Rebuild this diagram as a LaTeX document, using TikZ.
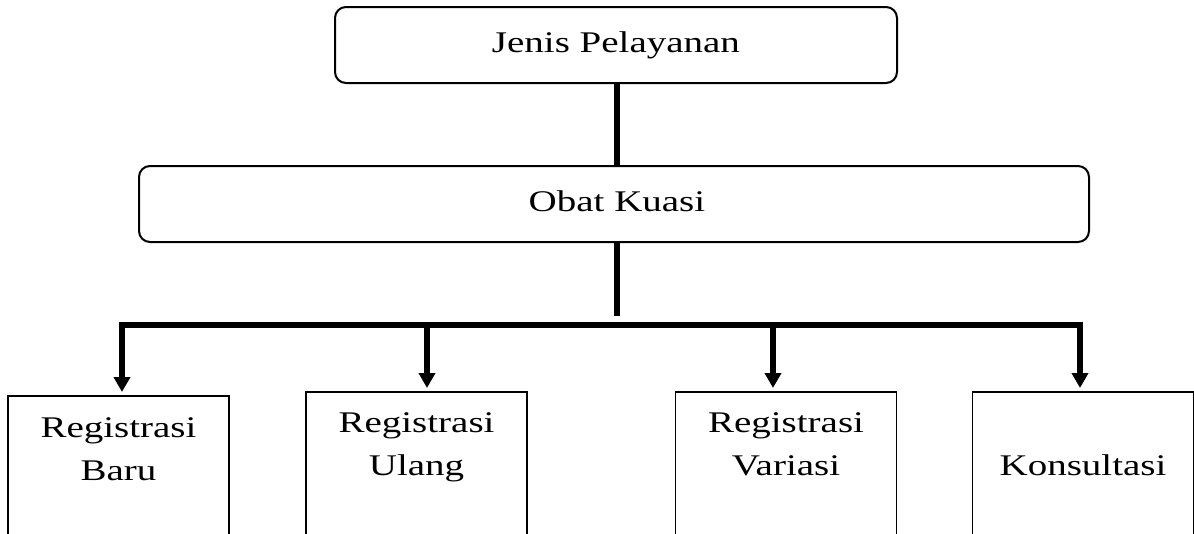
\documentclass[tikz,border=0pt]{standalone}
\usepackage{fontspec}
\setmainfont[FakeStretch=1.3]{Liberation Serif}
\usetikzlibrary{arrows.meta}
\begin{document}
\begin{tikzpicture}[x=1pt,y=-1pt,
  roundbox/.style={draw, line width=2pt, rounded corners=11pt, inner sep=0pt},
  leafbox/.style={draw, line width=1.8pt, anchor=north, inner sep=0pt, minimum width=221pt},
  lbl/.style={anchor=base, inner sep=0pt, font=\fontsize{30}{36}\selectfont},
  link/.style={line width=5.5pt},
  branch/.style={line width=5.5pt, -{Triangle[width=16pt,length=15pt]}, shorten >=3pt}]
\useasboundingbox (0,0) rectangle (1194,533);

% upper levels
\node[roundbox, minimum width=562pt, minimum height=76pt] (jenis) at (616,45) {};
\node[roundbox, minimum width=950pt, minimum height=76pt] (obat) at (614,204) {};
\node[lbl] (tjenis) at (616,52) {Jenis Pelayanan};
\node[lbl] (tobat) at (617,211) {Obat Kuasi};

% service boxes (run past the lower edge)
\node[leafbox, minimum height=205pt] (reg1) at (118.5,395) {};
\node[leafbox, minimum height=209pt] (reg2) at (416.5,391) {};
\node[leafbox, minimum height=209pt] (reg3) at (786,391) {};
\node[leafbox, minimum height=209pt] (kons) at (1083,391) {};

\node[lbl] (t1a) at (118.5,437) {Registrasi};
\node[lbl] (t1b) at (118.5,480) {Baru};
\node[lbl] (t2a) at (416.5,432) {Registrasi};
\node[lbl] (t2b) at (416.5,475) {Ulang};
\node[lbl] (t3a) at (786,432) {Registrasi};
\node[lbl] (t3b) at (786,475) {Variasi};
\node[lbl] (t4) at (1083,475) {Konsultasi};

% connectors
\coordinate (stem) at (617,316);
\coordinate (d1) at (122,325);
\coordinate (d2) at (427,325);
\coordinate (d3) at (773,325);
\coordinate (d4) at (1080,325);

\draw[link] (jenis.south -| stem) -- (obat.north -| stem);
\draw[link] (obat.south -| stem) -- (stem);
\draw[link, line cap=rect] (d1) -- (d4);
\draw[branch] (d1) -- (d1 |- reg1.north);
\draw[branch] (d2) -- (d2 |- reg2.north);
\draw[branch] (d3) -- (d3 |- reg3.north);
\draw[branch] (d4) -- (d4 |- kons.north);
\end{tikzpicture}
\end{document}
